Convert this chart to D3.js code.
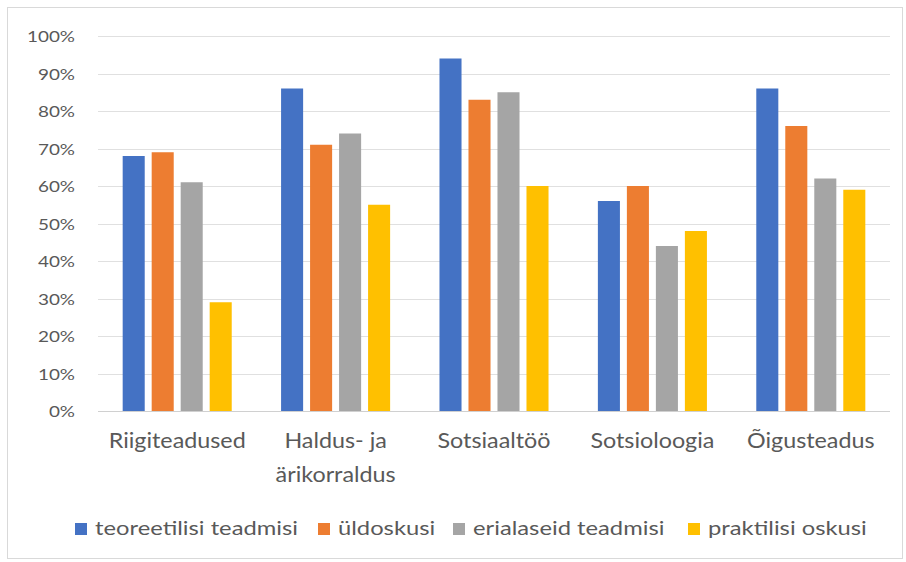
<!DOCTYPE html>
<html>
<head>
<meta charset="utf-8">
<script src="https://cdn.jsdelivr.net/npm/d3@7"></script>
<style>
  body { margin: 0; background: #fff; }
  text { font-family: Lato, "Open Sans", sans-serif; fill: #595959; }
</style>
</head>
<body>
<div id="chart"></div>
<script>
// data
const categories = ["Riigiteadused", "Haldus- ja\närikorraldus", "Sotsiaaltöö", "Sotsioloogia", "Õigusteadus"];
const seriesNames = ["teoreetilisi teadmisi", "üldoskusi", "erialaseid teadmisi", "praktilisi oskusi"];
const teoreetilisi = [68, 86, 94, 56, 86];
const yldoskusi = [69, 71, 83, 60, 76];
const erialaseid = [61, 74, 85, 44, 62];
const praktilisi = [29, 55, 60, 48, 59];
const yTicks = [0, 10, 20, 30, 40, 50, 60, 70, 80, 90, 100];
const colors = ["#4472C4", "#ED7D31", "#A5A5A5", "#FFC000"];

const width = 906, height = 562;
const plot = {left: 98, right: 890, top: 36, bottom: 411};

let svg = d3.select("#chart")
    .append("svg")
    .attr("width", width)
    .attr("height", height);

// outer frame
svg.append("rect")
    .attr("x", 7.5).attr("y", 7.5)
    .attr("width", 895).attr("height", 551)
    .attr("fill", "#fff")
    .attr("stroke", "#d9d9d9");

// the original text is wider than Lato, so widen each label by a factor
// taken from one sample string of known width
function widen(sel, sample, size, target) {
    let probe = svg.append("text").style("font-size", size).text(sample);
    let k = target / probe.node().getComputedTextLength();
    probe.remove();
    sel.each(function() {
        let len = this.getComputedTextLength();
        d3.select(this).attr("textLength", len * k).attr("lengthAdjust", "spacingAndGlyphs");
    });
}

let y = d3.scaleLinear().domain([0, 100]).range([plot.bottom, plot.top]);

let x0 = d3.scaleBand()
    .domain(d3.range(categories.length))
    .range([plot.left, plot.right]);

// bars inside a group, centred on the category
let x1 = d3.scaleBand()
    .domain(d3.range(seriesNames.length))
    .range([-58, 58])
    .paddingInner(0.24)
    .paddingOuter(0.12);

// gridlines
svg.append("g")
    .selectAll("line")
    .data(yTicks)
    .enter()
    .append("line")
    .attr("x1", plot.left).attr("x2", plot.right)
    .attr("y1", d => Math.round(y(d)) + 0.5)
    .attr("y2", d => Math.round(y(d)) + 0.5)
    .attr("stroke", d => d === 0 ? "#d0d0d0" : "#e0e0e0")
    .attr("stroke-width", 1);

// y labels
let yLabels = svg.append("g")
    .selectAll("text")
    .data(yTicks)
    .enter()
    .append("text")
    .attr("x", 75)
    .attr("y", d => y(d) + 6)
    .style("text-anchor", "end")
    .style("font-size", "16px")
    .text(d => d + "%");
widen(yLabels, "100%", "16px", 48);

let allSeries = [teoreetilisi, yldoskusi, erialaseid, praktilisi];

let groups = svg.append("g")
    .selectAll("g")
    .data(categories)
    .enter()
    .append("g")
    .attr("transform", (d, i) => `translate(${x0(i) + x0.bandwidth() / 2}, 0)`);

groups.selectAll("rect")
    .data((d, i) => allSeries.map((s, j) => ({series: j, value: s[i]})))
    .enter()
    .append("rect")
    .attr("x", d => x1(d.series))
    .attr("y", d => y(d.value))
    .attr("width", x1.bandwidth())
    .attr("height", d => plot.bottom - y(d.value))
    .attr("fill", d => colors[d.series]);

// category labels, one text per line
let catLabels = groups.selectAll("text.cat")
    .data(d => d.split("\n"))
    .enter()
    .append("text")
    .attr("class", "cat")
    .attr("x", 0)
    .attr("y", (d, i) => 448 + i * 34)
    .style("text-anchor", "middle")
    .style("font-size", "21px")
    .text(d => d);
widen(catLabels, "Riigiteadused", "21px", 137);

// legend
const legendX = [75, 318, 453, 688];
let legend = svg.append("g")
    .selectAll("g")
    .data(seriesNames)
    .enter()
    .append("g")
    .attr("transform", (d, i) => `translate(${legendX[i]}, 528)`);

legend.append("rect")
    .attr("x", 0).attr("y", -5)
    .attr("width", 12).attr("height", 12)
    .attr("fill", (d, i) => colors[i]);

let legendText = legend.append("text")
    .attr("x", 20)
    .attr("y", 7)
    .style("font-size", "19px")
    .text(d => d);
widen(legendText, "teoreetilisi teadmisi", "19px", 203);
</script>
</body>
</html>
